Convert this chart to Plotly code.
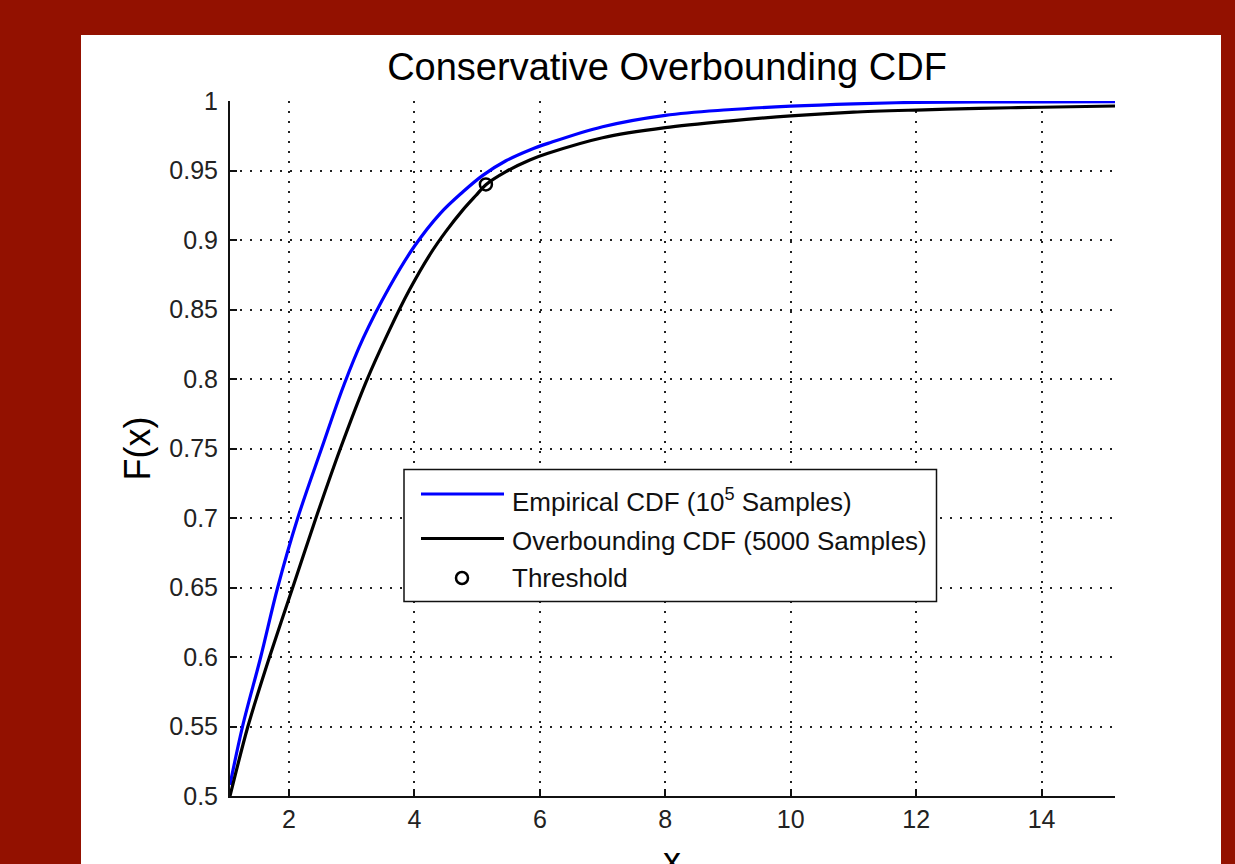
import plotly.graph_objects as go

# ---- data ----
empirical_x = [1.06, 1.26, 1.55, 1.82, 2.14, 2.52, 2.87, 3.18, 3.60, 4.00, 4.41, 4.77, 5.09,
               5.46, 5.84, 6.13, 7.0, 8.0, 9.0, 10.0, 11.0, 12.0, 13.0, 14.0, 15.17]
empirical_y = [0.508, 0.550, 0.600, 0.650, 0.700, 0.750, 0.795, 0.829, 0.866, 0.8955, 0.919, 0.9345, 0.9465,
               0.9570, 0.9648, 0.9695, 0.9815, 0.9897, 0.9937, 0.9963, 0.9980, 0.9990, 0.9993, 0.9994, 0.9995]

overbound_x = [1.06, 1.345, 1.69, 2.06, 2.43, 2.82, 3.23, 3.60, 3.92, 4.24, 4.50, 4.77, 4.98, 5.14,
               5.46, 5.84, 6.13, 7.0, 8.0, 9.0, 10.0, 11.0, 12.0, 13.0, 14.0, 15.17]
overbound_y = [0.500, 0.550, 0.600, 0.650, 0.700, 0.750, 0.798, 0.835, 0.864, 0.889, 0.906, 0.9215, 0.932, 0.9398,
               0.9492, 0.9576, 0.9624, 0.9736, 0.9808, 0.9855, 0.9893, 0.9920, 0.9935, 0.9947, 0.9955, 0.9964]

threshold_x = [5.14]
threshold_y = [0.940]

xtick_vals = [2, 4, 6, 8, 10, 12, 14]
xtick_text = ["2", "4", "6", "8", "10", "12", "14"]
ytick_vals = [0.5, 0.55, 0.6, 0.65, 0.7, 0.75, 0.8, 0.85, 0.9, 0.95, 1.0]
ytick_text = ["0.5", "0.55", "0.6", "0.65", "0.7", "0.75", "0.8", "0.85", "0.9", "0.95", "1"]

legend_labels = ["Empirical CDF (10<sup>5</sup> Samples)", "Overbounding CDF (5000 Samples)", "Threshold"]

# ---- layout geometry (pixels) ----
W, H = 1235, 864
L, R, T, B = 230, 1115, 101, 796
PW, PH = R - L, B - T


def px(xp):
    return (xp - L) / PW


def py(yp):
    return (B - yp) / PH


FONT = "Liberation Sans, Arial, Helvetica, sans-serif"

fig = go.Figure()
fig.add_trace(go.Scatter(x=empirical_x, y=empirical_y, mode="lines", name="Empirical CDF",
                         line=dict(color="#0000FF", width=3.2, shape="spline", smoothing=1.0),
                         showlegend=False))
fig.add_trace(go.Scatter(x=overbound_x, y=overbound_y, mode="lines", name="Overbounding CDF",
                         line=dict(color="#000000", width=3.2, shape="spline", smoothing=0.8),
                         showlegend=False))
fig.add_trace(go.Scatter(x=threshold_x, y=threshold_y, mode="markers", name="Threshold",
                         marker=dict(symbol="circle-open", size=12, color="#000000",
                                     line=dict(width=2.5, color="#000000")),
                         showlegend=False))

shapes = [
    # white figure panel
    dict(type="rect", xref="paper", yref="paper", layer="below",
         x0=px(81), x1=px(1221), y0=py(900), y1=py(35),
         fillcolor="white", line=dict(width=0)),
    # legend box
    dict(type="rect", xref="paper", yref="paper", layer="above",
         x0=px(404), x1=px(936.5), y0=py(601.5), y1=py(469.5),
         fillcolor="white", line=dict(color="#111111", width=1.5)),
    dict(type="line", xref="paper", yref="paper", x0=px(421), x1=px(504), y0=py(494), y1=py(494),
         line=dict(color="#0000FF", width=3.2)),
    dict(type="line", xref="paper", yref="paper", x0=px(421), x1=px(504), y0=py(538.5), y1=py(538.5),
         line=dict(color="#000000", width=3.2)),
    dict(type="circle", xref="paper", yref="paper", xsizemode="pixel", ysizemode="pixel",
         xanchor=px(462), yanchor=py(578), x0=-6, x1=6, y0=-6, y1=6,
         line=dict(color="#000000", width=2.5)),
]

annotations = [
    dict(text=legend_labels[0], x=px(510), y=py(500), xref="paper", yref="paper",
         xanchor="left", yanchor="middle", showarrow=False, font=dict(family=FONT, size=26, color="#111")),
    dict(text=legend_labels[1], x=px(510), y=py(541), xref="paper", yref="paper",
         xanchor="left", yanchor="middle", showarrow=False, font=dict(family=FONT, size=26, color="#111")),
    dict(text=legend_labels[2], x=px(510), y=py(578), xref="paper", yref="paper",
         xanchor="left", yanchor="middle", showarrow=False, font=dict(family=FONT, size=26, color="#111")),
    # axis titles
    dict(text="F(x)", x=px(137), y=0.5, xref="paper", yref="paper", textangle=-90,
         xanchor="center", yanchor="middle", showarrow=False, font=dict(family=FONT, size=36, color="#000")),
    dict(text="x", x=px(672), y=py(860), xref="paper", yref="paper",
         xanchor="center", yanchor="middle", showarrow=False, font=dict(family=FONT, size=36, color="#000")),
]

fig.update_layout(
    width=W, height=H,
    margin=dict(l=L, r=W - R, t=T, b=H - B, pad=0),
    paper_bgcolor="#931100",
    plot_bgcolor="white",
    showlegend=False,
    title=dict(text="Conservative Overbounding CDF", x=px(667), xref="paper", xanchor="center",
               y=1 - 67 / H, yref="container", yanchor="middle",
               font=dict(family=FONT, size=38, color="#000")),
    shapes=shapes,
    annotations=annotations,
    xaxis=dict(range=[1.06, 15.17], tickvals=xtick_vals, ticktext=xtick_text,
               showgrid=True, gridcolor="#222222", gridwidth=1.6, griddash="2px,8px",
               showline=True, linecolor="#111111", linewidth=2, mirror=False,
               ticks="inside", ticklen=7, tickwidth=1.5, tickcolor="#111111",
               tickfont=dict(family=FONT, size=25, color="#222"), ticklabelstandoff=0,
               zeroline=False),
    yaxis=dict(range=[0.5, 1.0], tickvals=ytick_vals, ticktext=ytick_text,
               showgrid=True, gridcolor="#222222", gridwidth=1.6, griddash="2px,8px",
               showline=True, linecolor="#111111", linewidth=2, mirror=False,
               ticks="inside", ticklen=7, tickwidth=1.5, tickcolor="#111111",
               tickfont=dict(family=FONT, size=25, color="#222"), ticklabelstandoff=5,
               zeroline=False),
)

fig.write_html("out.html", config={"displayModeBar": False},
               post_script="document.body.style.margin='0';document.body.style.overflow='hidden';")
